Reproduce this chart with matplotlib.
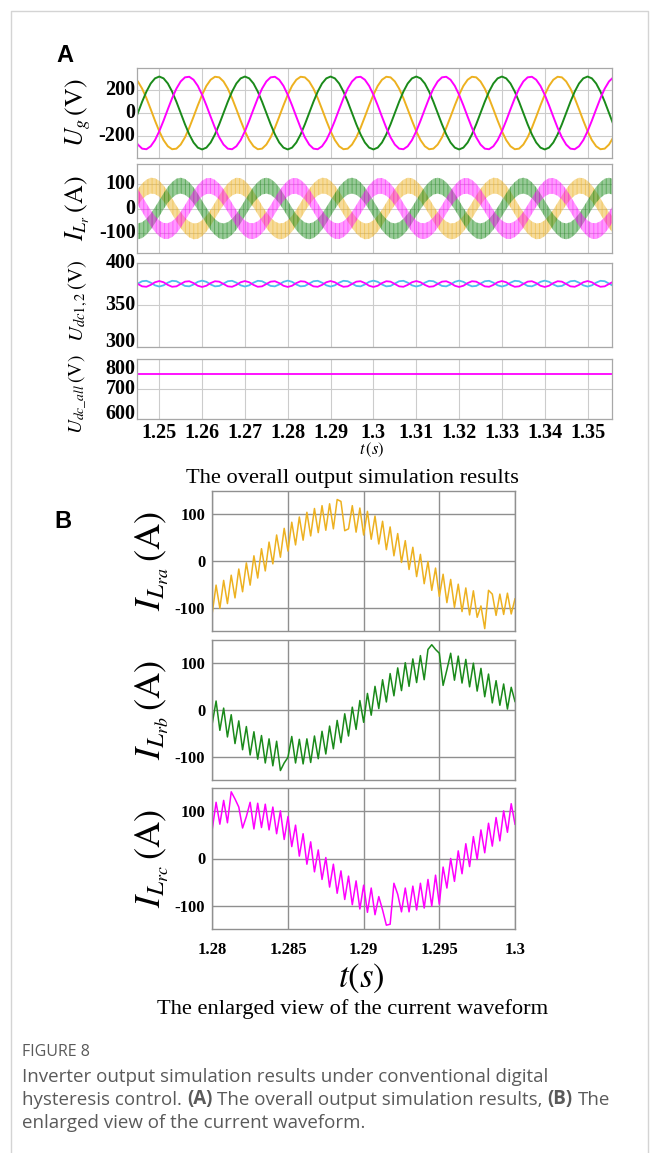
import numpy as np
import matplotlib.pyplot as plt

plt.rcParams['mathtext.fontset'] = 'stix'
plt.rcParams['font.family'] = ['Liberation Serif', 'DejaVu Serif']
plt.rcParams['hatch.linewidth'] = 0.7

W, H = 658, 1153

# ---------------- panel A data (1 ms samples from 1.244 s) ----------------
t_a = np.round(np.linspace(1.244, 1.356, 113), 3)

ug_orange = [
    313, 277, 214, 130, 33, -67, -160, -238, -292, -318, -313, -277, -214, -130, -33, 67, 160, 238, 292, 318,
    313, 277, 214, 130, 33, -67, -160, -238, -292, -318, -313, -277, -214, -130, -33, 67, 160, 238, 292, 318,
    313, 277, 214, 130, 33, -67, -160, -238, -292, -318, -313, -277, -214, -130, -33, 67, 160, 238, 292, 318,
    313, 277, 214, 130, 33, -67, -160, -238, -292, -318, -313, -277, -214, -130, -33, 67, 160, 238, 292, 318,
    313, 277, 214, 130, 33, -67, -160, -238, -292, -318, -313, -277, -214, -130, -33, 67, 160, 238, 292, 318,
    313, 277, 214, 130, 33, -67, -160, -238, -292, -318, -313, -277, -214]
ug_green = [
    -99, 0, 99, 188, 259, 304, 320, 304, 259, 188, 99, 0, -99, -188, -259, -304, -320, -304, -259, -188,
    -99, 0, 99, 188, 259, 304, 320, 304, 259, 188, 99, 0, -99, -188, -259, -304, -320, -304, -259, -188,
    -99, 0, 99, 188, 259, 304, 320, 304, 259, 188, 99, 0, -99, -188, -259, -304, -320, -304, -259, -188,
    -99, 0, 99, 188, 259, 304, 320, 304, 259, 188, 99, 0, -99, -188, -259, -304, -320, -304, -259, -188,
    -99, 0, 99, 188, 259, 304, 320, 304, 259, 188, 99, 0, -99, -188, -259, -304, -320, -304, -259, -188,
    -99, 0, 99, 188, 259, 304, 320, 304, 259, 188, 99, 0, -99]
ug_magenta = [
    -214, -277, -313, -318, -292, -238, -160, -67, 33, 130, 214, 277, 313, 318, 292, 238, 160, 67, -33, -130,
    -214, -277, -313, -318, -292, -238, -160, -67, 33, 130, 214, 277, 313, 318, 292, 238, 160, 67, -33, -130,
    -214, -277, -313, -318, -292, -238, -160, -67, 33, 130, 214, 277, 313, 318, 292, 238, 160, 67, -33, -130,
    -214, -277, -313, -318, -292, -238, -160, -67, 33, 130, 214, 277, 313, 318, 292, 238, 160, 67, -33, -130,
    -214, -277, -313, -318, -292, -238, -160, -67, 33, 130, 214, 277, 313, 318, 292, 238, 160, 67, -33, -130,
    -214, -277, -313, -318, -292, -238, -160, -67, 33, 130, 214, 277, 313]

# mid line of the hysteresis current bands, ripple half width read ~33 A
il_orange = [
    21, 48, 71, 87, 95, 93, 82, 63, 38, 9, -21, -48, -71, -87, -95, -93, -82, -63, -38, -9,
    21, 48, 71, 87, 95, 93, 82, 63, 38, 9, -21, -48, -71, -87, -95, -93, -82, -63, -38, -9,
    21, 48, 71, 87, 95, 93, 82, 63, 38, 9, -21, -48, -71, -87, -95, -93, -82, -63, -38, -9,
    21, 48, 71, 87, 95, 93, 82, 63, 38, 9, -21, -48, -71, -87, -95, -93, -82, -63, -38, -9,
    21, 48, 71, 87, 95, 93, 82, 63, 38, 9, -21, -48, -71, -87, -95, -93, -82, -63, -38, -9,
    21, 48, 71, 87, 95, 93, 82, 63, 38, 9, -21, -48, -71]
il_green = [
    -91, -95, -90, -76, -55, -28, 1, 30, 57, 77, 91, 95, 90, 76, 55, 28, -1, -30, -57, -77,
    -91, -95, -90, -76, -55, -28, 1, 30, 57, 77, 91, 95, 90, 76, 55, 28, -1, -30, -57, -77,
    -91, -95, -90, -76, -55, -28, 1, 30, 57, 77, 91, 95, 90, 76, 55, 28, -1, -30, -57, -77,
    -91, -95, -90, -76, -55, -28, 1, 30, 57, 77, 91, 95, 90, 76, 55, 28, -1, -30, -57, -77,
    -91, -95, -90, -76, -55, -28, 1, 30, 57, 77, 91, 95, 90, 76, 55, 28, -1, -30, -57, -77,
    -91, -95, -90, -76, -55, -28, 1, 30, 57, 77, 91, 95, 90]
il_magenta = [
    70, 47, 19, -11, -40, -64, -83, -93, -94, -86, -70, -47, -19, 11, 40, 64, 83, 93, 94, 86,
    70, 47, 19, -11, -40, -64, -83, -93, -94, -86, -70, -47, -19, 11, 40, 64, 83, 93, 94, 86,
    70, 47, 19, -11, -40, -64, -83, -93, -94, -86, -70, -47, -19, 11, 40, 64, 83, 93, 94, 86,
    70, 47, 19, -11, -40, -64, -83, -93, -94, -86, -70, -47, -19, 11, 40, 64, 83, 93, 94, 86,
    70, 47, 19, -11, -40, -64, -83, -93, -94, -86, -70, -47, -19, 11, 40, 64, 83, 93, 94, 86,
    70, 47, 19, -11, -40, -64, -83, -93, -94, -86, -70, -47, -19]
il_ripple = 33

udc1 = [
    372.7, 375.5, 378.3, 378.8, 376.6, 373.4, 372.0, 373.4, 376.6, 378.8, 378.3, 375.5, 372.7, 372.2, 374.4, 377.6, 379.0, 377.6, 374.4, 372.2,
    372.7, 375.5, 378.3, 378.8, 376.6, 373.4, 372.0, 373.4, 376.6, 378.8, 378.3, 375.5, 372.7, 372.2, 374.4, 377.6, 379.0, 377.6, 374.4, 372.2,
    372.7, 375.5, 378.3, 378.8, 376.6, 373.4, 372.0, 373.4, 376.6, 378.8, 378.3, 375.5, 372.7, 372.2, 374.4, 377.6, 379.0, 377.6, 374.4, 372.2,
    372.7, 375.5, 378.3, 378.8, 376.6, 373.4, 372.0, 373.4, 376.6, 378.8, 378.3, 375.5, 372.7, 372.2, 374.4, 377.6, 379.0, 377.6, 374.4, 372.2,
    372.7, 375.5, 378.3, 378.8, 376.6, 373.4, 372.0, 373.4, 376.6, 378.8, 378.3, 375.5, 372.7, 372.2, 374.4, 377.6, 379.0, 377.6, 374.4, 372.2,
    372.7, 375.5, 378.3, 378.8, 376.6, 373.4, 372.0, 373.4, 376.6, 378.8, 378.3, 375.5, 372.7]
udc2 = [
    377.8, 375.0, 372.2, 371.7, 373.9, 377.1, 378.5, 377.1, 373.9, 371.7, 372.2, 375.0, 377.8, 378.3, 376.1, 372.9, 371.5, 372.9, 376.1, 378.3,
    377.8, 375.0, 372.2, 371.7, 373.9, 377.1, 378.5, 377.1, 373.9, 371.7, 372.2, 375.0, 377.8, 378.3, 376.1, 372.9, 371.5, 372.9, 376.1, 378.3,
    377.8, 375.0, 372.2, 371.7, 373.9, 377.1, 378.5, 377.1, 373.9, 371.7, 372.2, 375.0, 377.8, 378.3, 376.1, 372.9, 371.5, 372.9, 376.1, 378.3,
    377.8, 375.0, 372.2, 371.7, 373.9, 377.1, 378.5, 377.1, 373.9, 371.7, 372.2, 375.0, 377.8, 378.3, 376.1, 372.9, 371.5, 372.9, 376.1, 378.3,
    377.8, 375.0, 372.2, 371.7, 373.9, 377.1, 378.5, 377.1, 373.9, 371.7, 372.2, 375.0, 377.8, 378.3, 376.1, 372.9, 371.5, 372.9, 376.1, 378.3,
    377.8, 375.0, 372.2, 371.7, 373.9, 377.1, 378.5, 377.1, 373.9, 371.7, 372.2, 375.0, 377.8]
t_dc_all = [1.244, 1.356]
udc_all = [750, 750]

a_xticks = [1.25, 1.26, 1.27, 1.28, 1.29, 1.30, 1.31, 1.32, 1.33, 1.34, 1.35]
a_xticklabels = ['1.25', '1.26', '1.27', '1.28', '1.29', '1.3', '1.31', '1.32', '1.33', '1.34', '1.35']

# ---------------- panel B data (0.25 ms samples, 1.28 .. 1.30 s) ----------------
t_b = np.round(np.linspace(1.28, 1.30, 81), 5)

ilr_a = [
    -109, -51, -100, -41, -90, -30, -78, -17, -65, -4,
    -51, 11, -36, 26, -21, 40, -6, 55, 8, 69,
    21, 82, 34, 93, 44, 103, 53, 111, 60, 117,
    65, 121, 68, 130, 126, 64, 68, 117, 61, 112,
    55, 105, 46, 95, 36, 84, 24, 72, 11, 58,
    -3, 43, -18, 29, -33, 14, -48, -1, -62, -15,
    -75, -28, -88, -39, -98, -49, -107, -57, -114, -63,
    -119, -95, -143, -62, -70, -115, -70, -113, -68, -112, -80]
ilr_b = [
    -28, 19, -43, 4, -57, -10, -71, -23, -84, -35,
    -95, -46, -104, -54, -112, -61, -118, -66, -128, -112,
    -100, -56, -112, -62, -114, -61, -111, -55, -103, -45,
    -93, -34, -82, -22, -69, -8, -55, 6, -41, 20,
    -26, 35, -11, 50, 3, 64, 17, 77, 30, 89,
    41, 100, 50, 108, 58, 115, 64, 128, 138, 128,
    120, 52, 85, 120, 63, 114, 57, 107, 49, 99,
    40, 88, 28, 76, 15, 62, 10, 55, 2, 48, 18]
ilr_c = [
    62, 118, 72, 122, 75, 140, 125, 108, 64, 88,
    118, 62, 116, 65, 114, 60, 108, 52, 100, 40,
    88, 25, 70, 5, 52, -12, 35, -28, 18, -44,
    2, -60, -12, -73, -26, -86, -37, -97, -47, -106,
    -56, -113, -62, -118, -80, -108, -140, -138, -52, -75,
    -112, -62, -112, -58, -108, -52, -104, -44, -100, -35,
    -96, -18, -62, 0, -48, 16, -32, 31, -17, 46,
    -2, 60, 12, 74, 26, 86, 37, 100, 55, 115, 72]

b_xticks = [1.28, 1.285, 1.29, 1.295, 1.3]
b_xticklabels = ['1.28', '1.285', '1.29', '1.295', '1.3']

C_OR = '#EDB120'
C_GR = '#1A8A1A'
C_MG = '#FF00FF'
C_CY = '#4DBEEE'

TICK_A = 14.5


def box(x0, y0, x1, y1):
    return [x0 / W, 1 - y1 / H, (x1 - x0) / W, (y1 - y0) / H]


def style_a(ax, ylim, yticks, ylabel, lab_size=18.5, vas=('center', 'center', 'center')):
    ax.set_xlim(1.2448, 1.3557)
    ax.set_ylim(*ylim)
    ax.set_yticks(yticks)
    ax.set_yticklabels([str(v) for v in yticks], fontsize=TICK_A, fontweight='bold')
    for lab, va in zip(ax.get_yticklabels(), vas):
        lab.set_va(va)
    ax.set_xticks(a_xticks)
    ax.grid(True, color='#cccccc', lw=0.8)
    ax.set_axisbelow(True)
    ax.tick_params(direction='in', length=0, pad=1)
    for s in ax.spines.values():
        s.set_color('#a8a8a8')
        s.set_linewidth(0.9)
    ax.set_ylabel(ylabel, fontsize=lab_size, va='center')
    ax.yaxis.set_label_coords((78 - 137) / 475, 0.5)


def style_b(ax, ylabel):
    ax.set_xlim(1.28, 1.30)
    ax.set_ylim(-148, 148)
    ax.set_yticks([-100, 0, 100])
    ax.set_yticklabels(['-100', '0', '100'], fontsize=12, fontweight='bold')
    ax.set_xticks(b_xticks)
    ax.grid(True, color='#8f8f8f', lw=1.0)
    ax.set_axisbelow(True)
    ax.tick_params(direction='in', length=0, pad=5)
    for s in ax.spines.values():
        s.set_color('#909090')
        s.set_linewidth(1.0)
    ax.set_ylabel(ylabel, fontsize=26, va='center')
    ax.yaxis.set_label_coords((152 - 212.3) / 302.7, 0.5)


fig = plt.figure(figsize=(W / 100, H / 100), dpi=100)

# ---- panel A ----
ax1 = fig.add_axes(box(137, 68, 612, 158))
ax1.plot(t_a, ug_orange, color=C_OR, lw=1.4)
ax1.plot(t_a, ug_green, color=C_GR, lw=1.4)
ax1.plot(t_a, ug_magenta, color=C_MG, lw=1.4)
style_a(ax1, (-395, 395), [-200, 0, 200], r'$U_g\,(\mathrm{V})$')
ax1.set_xticklabels([])

ax2 = fig.add_axes(box(137, 164, 612, 253))
for mid, col, al in [(il_orange, C_OR, 0.45), (il_green, C_GR, 0.45), (il_magenta, C_MG, 0.4)]:
    mid = np.array(mid)
    ax2.fill_between(t_a, mid - il_ripple, mid + il_ripple, facecolor=col, edgecolor=col,
                     hatch='||||', alpha=al, lw=0)
style_a(ax2, (-185, 185), [-100, 0, 100], r'$I_{L_r}\,(\mathrm{A})$')
ax2.set_xticklabels([])

ax3 = fig.add_axes(box(137, 263, 612, 347))
ax3.plot(t_a, udc1, color=C_CY, lw=1.3)
ax3.plot(t_a, udc2, color=C_MG, lw=1.3)
style_a(ax3, (300, 400), [300, 350, 400], r'$U_{dc1,2}\,(\mathrm{V})$', lab_size=15,
        vas=('baseline', 'center', 'center'))
ax3.yaxis.set_label_coords((78 - 137) / 475, 0.55)
ax3.set_xticklabels([])

ax4 = fig.add_axes(box(137, 359, 612, 419))
ax4.plot(t_dc_all, udc_all, color=C_MG, lw=1.3)
style_a(ax4, (600, 800), [600, 700, 800], r'$U_{dc\_all}\,(\mathrm{V})$', lab_size=14,
        vas=('baseline', 'center', 'top'))
ax4.yaxis.set_label_coords((78 - 137) / 475, 0.42)
ax4.set_xticklabels(a_xticklabels, fontsize=TICK_A, fontweight='bold')
ax4.tick_params(axis='x', pad=3)

fig.text(372 / W, 1 - 450 / H, r'$t\,(s)$', fontsize=12, ha='center', va='center')
fig.text(353 / W, 1 - 478 / H, 'The overall output simulation results', fontsize=16.2,
         ha='center', va='center')

# ---- panel B ----
bx1 = fig.add_axes(box(212.3, 491, 515, 631))
bx1.plot(t_b, ilr_a, color=C_OR, lw=1.1)
style_b(bx1, r'$I_{L_{ra}}\,(\mathrm{A})$')
bx1.set_xticklabels([])

bx2 = fig.add_axes(box(212.3, 640, 515, 780))
bx2.plot(t_b, ilr_b, color=C_GR, lw=1.1)
style_b(bx2, r'$I_{L_{rb}}\,(\mathrm{A})$')
bx2.set_xticklabels([])

bx3 = fig.add_axes(box(212.3, 788, 515, 929))
bx3.plot(t_b, ilr_c, color=C_MG, lw=1.1)
style_b(bx3, r'$I_{L_{rc}}\,(\mathrm{A})$')
bx3.set_xticklabels(b_xticklabels, fontsize=12, fontweight='bold')
bx3.tick_params(axis='x', pad=9)

fig.text(361 / W, 1 - 978 / H, r'$t(s)$', fontsize=25, ha='center', va='center')
fig.text(353 / W, 1 - 1009 / H, 'The enlarged view of the current waveform', fontsize=16.2,
         ha='center', va='center')

# ---- panel letters ----
fig.text(56 / W, 1 - 55 / H, 'A', fontsize=17, fontweight='bold', family='Liberation Sans',
         ha='left', va='center')
fig.text(54 / W, 1 - 521 / H, 'B', fontsize=17, fontweight='bold', family='Liberation Sans',
         ha='left', va='center')

# ---- frame and caption ----
over = fig.add_axes([0, 0, 1, 1])
over.set_xlim(0, W)
over.set_ylim(H, 0)
over.axis('off')
over.plot([10.5, 10.5, 647.5, 647.5], [H + 5, 10.5, 10.5, H + 5], color='#d4d4d4', lw=1)

cap_kw = dict(family=['Open Sans', 'DejaVu Sans'], color='#5a5a5a', fontsize=13.5)
over.text(22, 1052, 'FIGURE 8', family=['Open Sans', 'DejaVu Sans'], color='#5a5a5a',
          fontsize=11.5, va='center')
over.text(22, 1077, 'Inverter output simulation results under conventional digital',
          va='center', **cap_kw)
p = over.text(22, 1100, 'hysteresis control.', va='center', **cap_kw)
pieces = [('(A)', 'bold'), ('The overall output simulation results,', 'normal'),
          ('(B)', 'bold'), ('The', 'normal')]
for txt, wt in pieces:
    p = over.annotate(txt, xy=(1, 0), xycoords=p, xytext=(3.6, 0), textcoords='offset points',
                      va='bottom', ha='left', fontweight=wt, **cap_kw)
over.text(22, 1123, 'enlarged view of the current waveform.', va='center', **cap_kw)

fig.savefig('out.png', dpi=100)
